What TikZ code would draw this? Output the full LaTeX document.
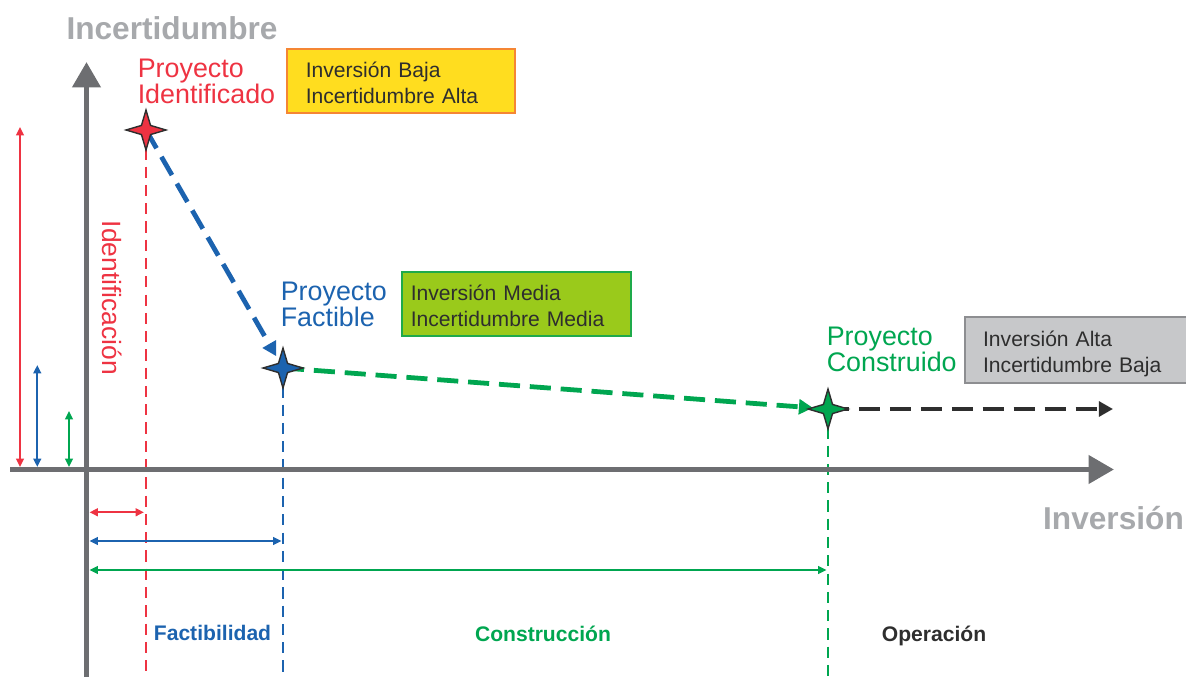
\documentclass[tikz,border=0pt]{standalone}
\usepackage{fontspec}
\setmainfont{Liberation Sans}
\usepackage{xcolor}
\usepackage{tikz}
\usetikzlibrary{
	arrows.meta,shapes.geometric
}

\definecolor{idred}{HTML}{EE3342}
\definecolor{fblue}{HTML}{1C63AF}
\definecolor{cgreen}{HTML}{00A650}
\definecolor{opdark}{HTML}{2E2E2E}
\definecolor{axisgray}{HTML}{6D6E71}
\definecolor{labelgray}{HTML}{A7A9AC}
\definecolor{lowyellow}{HTML}{FFDD1F}
\definecolor{loworange}{HTML}{F58634}
\definecolor{midlime}{HTML}{9ACA1B}
\definecolor{midgreen}{HTML}{1EAA4B}
\definecolor{highgray}{HTML}{C7C8CA}
\definecolor{highedge}{HTML}{8D8E91}

\tikzset{
	axisline/.style={draw=axisgray,line width=4pt,-{Triangle[length=18pt,width=19.5pt]}},
	spanarrow/.style={line width=1.4pt,{Triangle[length=6pt,width=5.5pt]}-{Triangle[length=6pt,width=5.5pt]}},
	guide/.style={line width=1.5pt,dash pattern=on 8pt off 5pt},
	trend/.style={line width=3.4pt,dash pattern=on 15pt off 7pt,-{Triangle[length=10pt,width=10.5pt]}},
	milestone/.style={star,star points=4,star point ratio=3.1,minimum size=28.4pt,inner sep=0pt,draw=opdark,line width=1pt},
	stage/.style={anchor=north west,inner sep=0pt,align=left,font=\fontsize{19.1}{18}\selectfont},
	infobox/.style={anchor=west,line width=1.6pt,align=left,text=opdark,inner ysep=0pt,text height=14pt,text depth=18.5pt,font=\fontsize{15}{18.5}\selectfont},
	phase/.style={anchor=base,inner sep=0pt,font=\bfseries\fontsize{15}{18}\selectfont},
	axislabel/.style={anchor=base,inner sep=0pt,text=labelgray,font=\bfseries\fontsize{22.5}{27}\selectfont}
}

\begin{document}
\begin{tikzpicture}[x=0.025cm,y=-0.025cm]
		\useasboundingbox (0,0) rectangle (1186,677);
		% axes
		\coordinate (Ybot) at (86.5,677);
		\coordinate (Ytop) at (86.5,62);
		\coordinate (Xleft) at (10,469.5);
		\coordinate (Xright) at (1114,469.5);
		% milestones
		\coordinate (pI) at (146,130);
		\coordinate (pF) at (283,368);
		\coordinate (pC) at (828,409);
		\coordinate (pO) at (1113,409);
		% span ends
		\coordinate (uI) at (20,127);
		\coordinate (lI) at (20,467);
		\coordinate (uF) at (37.3,365);
		\coordinate (lF) at (37.3,467);
		\coordinate (uC) at (69,411);
		\coordinate (lC) at (69,467);
		\coordinate (sI) at (89.5,512.3);
		\coordinate (eI) at (144,512.3);
		\coordinate (sF) at (89.5,541);
		\coordinate (eF) at (281.5,541);
		\coordinate (sC) at (89.5,570);
		\coordinate (eC) at (826.5,570);
		%
		\draw[guide,idred] (pI) -- (pI |- Ybot);
		\draw[guide,fblue] (pF) -- (pF |- Ybot);
		\draw[guide,cgreen] (pC) -- (pC |- Ybot);
		%
		\path[spanarrow]
		% vertical arrows
		(uI) edge[idred] (lI)
		(uF) edge[fblue] (lF)
		(uC) edge[cgreen] (lC)
		% horizontal arrows
		(sI) edge[idred] (eI)
		(sF) edge[fblue] (eF)
		(sC) edge[cgreen] (eC);
		%
		\draw[axisline] (Ybot) -- (Ytop);
		\draw[axisline] (Xleft) -- (Xright);
		%
		\draw[trend,fblue,shorten >=9.7pt] (pI) -- (pF);
		\draw[trend,cgreen,shorten >=10.7pt] (pF) -- (pC);
		\draw[trend,opdark] (pC) -- (pO);
		%
		\node[milestone,fill=idred] (PI) at (pI) {};
		\node[milestone,fill=fblue] (PF) at (pF) {};
		\node[milestone,fill=cgreen] (PC) at (pC) {};
		%
		\node[stage,text=idred] (LI) at (137.5,59) {Proyecto\\Identificado};
		\node[stage,text=fblue] (LF) at (280.5,282) {Proyecto\\Factible};
		\node[stage,text=cgreen] (LC) at (826.5,327) {Proyecto\\Construido};
		%
		\node[infobox,fill=lowyellow,draw=loworange,inner xsep=13.5pt,text width=135.3pt,minimum height=45.3pt] (BI) at (285.7,80.9) {Inversión Baja\\Incertidumbre Alta};
		\node[infobox,fill=midlime,draw=midgreen,inner xsep=6.2pt,text width=150.4pt,minimum height=45.7pt] (BF) at (401,304) {Inversión Media\\Incertidumbre Media};
		\node[infobox,fill=highgray,draw=highedge,inner xsep=12.8pt,text width=135.1pt,minimum height=47pt] (BC) at (964,350) {Inversión Alta\\Incertidumbre Baja};
		%
		\node[rotate=-90,anchor=base,inner sep=0pt,text=idred,font=\fontsize{18.8}{20}\selectfont] (TI) at (102,298) {Identificación};
		\node[phase,text=fblue] (TF) at (212.5,640) {Factibilidad};
		\node[phase,text=cgreen] (TC) at (543,641) {Construcción};
		\node[phase,text=opdark] (TO) at (934,641) {Operación};
		%
		\node[axislabel] (AY) at (172,39) {Incertidumbre};
		\node[axislabel] (AX) at (1113.5,529) {Inversión};
	\end{tikzpicture}
\end{document}
